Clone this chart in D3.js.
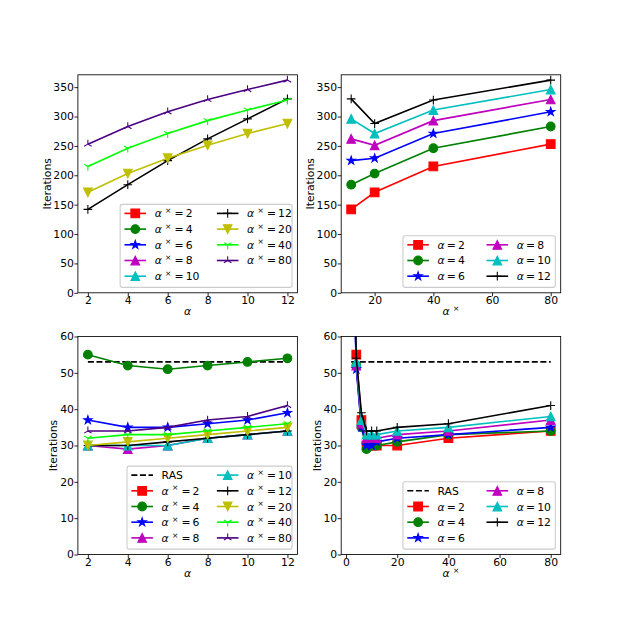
<!DOCTYPE html>
<html>
<head>
<meta charset="utf-8">
<script src="https://cdn.jsdelivr.net/npm/d3@7"></script>
<style>
  body { margin: 0; background: #fff; }
  text { font-family: "DejaVu Sans", sans-serif; }
</style>
</head>
<body>
<div id="chart"></div>
<script>
// ---- data ----
const alphaVals = [2, 4, 6, 8, 10, 12];
const crossVals = [2, 4, 6, 8, 10, 12, 20, 40, 80];

// top problem: iterations for alpha = 2..12, one array per alpha^x (null = no result)
const topIt2  = [null, null, null, null, null, null];
const topIt4  = [null, null, null, null, null, null];
const topIt6  = [null, null, null, null, null, null];
const topIt8  = [null, null, null, null, null, null];
const topIt10 = [null, null, null, null, null, null];
const topIt12 = [142, 184, 225, 262, 296, 330];
const topIt20 = [171, 203, 229, 251, 271, 288];
const topIt40 = [215, 246, 271, 293, 311, 328];
const topIt80 = [253, 283, 308, 329, 346, 362];

// bottom problem (alpha^x = 2 runs off the top of the axes)
const botIt2  = [112, 108, 106, 107, 110, 115];
const botIt4  = [55, 52, 51, 52, 53, 54];
const botIt6  = [37, 35, 35, 36, 37, 39];
const botIt8  = [30, 29, 30, 32, 33, 34];
const botIt10 = [30, 30, 30, 32, 33, 34];
const botIt12 = [30, 30, 31, 32, 33, 34];
const botIt20 = [30, 31, 32, 33, 34, 35];
const botIt40 = [32, 33, 33, 34, 35, 36];
const botIt80 = [34, 34, 35, 37, 38, 41];
const rasIt = 53;

const topYTicks = [0, 50, 100, 150, 200, 250, 300, 350];
const botYTicks = [0, 10, 20, 30, 40, 50, 60];
const alphaTicks = [2, 4, 6, 8, 10, 12];
const crossTicksTop = [20, 40, 60, 80];
const crossTicksBot = [0, 20, 40, 60, 80];

const topGrid = [topIt2, topIt4, topIt6, topIt8, topIt10, topIt12, topIt20, topIt40, topIt80];
const botGrid = [botIt2, botIt4, botIt6, botIt8, botIt10, botIt12, botIt20, botIt40, botIt80];

// ---- styles ----
const W = 623, H = 623;
const fs = 10.8;
const ms = 8.7;
const lw = 1.62;
const styles = [
  {color: "#ff0000", marker: "s"},
  {color: "#008000", marker: "o"},
  {color: "#0000ff", marker: "*"},
  {color: "#bf00bf", marker: "^"},
  {color: "#00bfbf", marker: "^"},
  {color: "#000000", marker: "+"},
  {color: "#bfbf00", marker: "v"},
  {color: "#00ff00", marker: "1"},
  {color: "#4b0082", marker: "2"}
];
const filled = ["s", "o", "^", "v", "*"];

const svg = d3.select("#chart").append("svg")
    .attr("width", W)
    .attr("height", H)
    .style("font-size", fs + "px");

function markerPath(type, size) {
  const r = size / 2;
  switch (type) {
    case "s": return `M${-r},${-r}H${r}V${r}H${-r}Z`;
    case "o": return `M${r},0A${r},${r} 0 1,1 ${-r},0A${r},${r} 0 1,1 ${r},0Z`;
    case "^": return `M0,${-r}L${r},${r}L${-r},${r}Z`;
    case "v": return `M0,${r}L${r},${-r}L${-r},${-r}Z`;
    case "+": return `M${-r},0H${r}M0,${-r}V${r}`;
    case "1": return `M0,0V${r}M0,0L${-0.866 * r},${-0.5 * r}M0,0L${0.866 * r},${-0.5 * r}`;
    case "2": return `M0,0V${-r}M0,0L${-0.866 * r},${0.5 * r}M0,0L${0.866 * r},${0.5 * r}`;
    case "*": {
      let d = "";
      for (let k = 0; k < 10; k++) {
        const a = -Math.PI / 2 + k * Math.PI / 5;
        const rr = k % 2 === 0 ? r : r * 0.381966;
        d += (k === 0 ? "M" : "L") + (rr * Math.cos(a)).toFixed(2) + "," + (rr * Math.sin(a)).toFixed(2);
      }
      return d + "Z";
    }
  }
  return "";
}

function addMarker(g, type, color, x, y) {
  g.append("path")
    .attr("d", markerPath(type, ms))
    .attr("transform", `translate(${x},${y})`)
    .attr("fill", filled.includes(type) ? color : "none")
    .attr("stroke", color)
    .attr("stroke-width", 1.08);
}

// label parts: {t, it, sup}
function addMath(textSel, parts) {
  let raised = false;
  parts.forEach(p => {
    const ts = textSel.append("tspan").text(p.t);
    if (p.it) ts.attr("font-style", "italic");
    if (p.sup) {
      ts.attr("font-size", fs * 0.7).attr("dy", -4.4).attr("dx", 3.2);
      raised = true;
    } else if (raised) {
      ts.attr("dy", 4.4).attr("dx", 1);
      raised = false;
    }
  });
}
const crossLabel = v => [{t: "α", it: true}, {t: "×", sup: true}, {t: "\u2009=\u2009" + v}];
const alphaLabel = v => [{t: "α", it: true}, {t: "\u2009=\u2009" + v}];

function panel(ox, oy, xDomain, yDomain, xTicks, yTicks, xLabel, series, legendItems) {
  const aw = 219.5, ah = 218;
  const x = d3.scaleLinear().domain(xDomain).range([0, aw]);
  const y = d3.scaleLinear().domain(yDomain).range([ah, 0]);
  const g = svg.append("g").attr("transform", `translate(${ox},${oy})`);
  const clipId = "clip" + Math.round(ox) + "_" + Math.round(oy);
  g.append("clipPath").attr("id", clipId)
    .append("rect").attr("width", aw).attr("height", ah);

  // data lines and markers
  const plot = g.append("g").attr("clip-path", `url(#${clipId})`);
  const line = d3.line().x(d => x(d[0])).y(d => y(d[1]));
  series.forEach(s => {
    plot.append("path")
      .attr("d", line(s.pts))
      .attr("fill", "none")
      .attr("stroke", s.color)
      .attr("stroke-width", lw)
      .attr("stroke-dasharray", s.dash ? "6,2.6" : null);
    if (s.marker) s.pts.forEach(d => addMarker(plot, s.marker, s.color, x(d[0]), y(d[1])));
  });

  // axes
  const xa = g.append("g").attr("transform", `translate(0,${ah})`)
    .call(d3.axisBottom(x).tickValues(xTicks).tickSize(3.5).tickPadding(0.5));
  const ya = g.append("g")
    .call(d3.axisLeft(y).tickValues(yTicks).tickSize(3.5).tickPadding(0.5));
  [xa, ya].forEach(a => {
    a.select(".domain").remove();
    a.selectAll("line").attr("stroke", "#000").attr("stroke-width", 0.85);
    a.selectAll("text").attr("fill", "#000").style("font-size", fs + "px")
      .style("font-family", "'DejaVu Sans', sans-serif");
  });
  g.append("rect").attr("width", aw).attr("height", ah)
    .attr("fill", "none").attr("stroke", "#000").attr("stroke-width", 0.85);

  // axis labels
  const xl = g.append("text").attr("x", aw / 2).attr("y", ah + 22.6)
    .attr("text-anchor", "middle");
  addMath(xl, xLabel);
  let maxW = 0;
  ya.selectAll("text").each(function() { maxW = Math.max(maxW, this.getComputedTextLength()); });
  const lx = -4 - maxW - 2.7;
  g.append("text")
    .attr("transform", `translate(${lx},${ah / 2}) rotate(-90)`)
    .attr("text-anchor", "middle")
    .text("Iterations");

  // legend, two columns filled column-first, anchored lower right
  const n = legendItems.length;
  const perCol = Math.ceil(n / 2);
  const cols = [legendItems.slice(0, perCol), legendItems.slice(perCol)];
  const pad = 0.4 * fs, hl = 2 * fs, tp = 0.8 * fs, cs = 2 * fs, pitch = 15.7;
  const lg = g.append("g");
  const box = lg.append("rect");
  const colTexts = cols.map(col => col.map(it => {
    const t = lg.append("text").attr("fill", "#000");
    addMath(t, it.label);
    return t;
  }));
  const colW = colTexts.map(texts => d3.max(texts, t => t.node().getComputedTextLength()));
  const lwid = 2 * pad + colW.reduce((a, b) => a + b + hl + tp, 0) + cs;
  const lhei = perCol * pitch + 4.5;
  const lx0 = aw - 5.4 - lwid, ly0 = ah - 5.4 - lhei;
  box.attr("x", lx0).attr("y", ly0).attr("width", lwid).attr("height", lhei)
    .attr("rx", 2.2).attr("fill", "#fff").attr("fill-opacity", 0.8)
    .attr("stroke", "#cccccc").attr("stroke-width", 1.08);
  let cx = lx0 + pad;
  cols.forEach((col, ci) => {
    col.forEach((it, ri) => {
      const cy = ly0 + 9 + ri * pitch;
      lg.append("line").attr("x1", cx).attr("x2", cx + hl).attr("y1", cy).attr("y2", cy)
        .attr("stroke", it.color).attr("stroke-width", lw)
        .attr("stroke-dasharray", it.dash ? "6,2.6" : null);
      if (it.marker) addMarker(lg, it.marker, it.color, cx + hl / 2, cy);
      colTexts[ci][ri].attr("x", cx + hl + tp).attr("y", cy + 4);
    });
    cx += hl + tp + colW[ci] + cs;
  });
}

// ---- build series ----
function crossSeries(grid) {
  return crossVals.map((c, i) => ({
    pts: alphaVals.map((a, j) => [a, grid[i][j]]).filter(d => d[1] != null),
    color: styles[i].color, marker: styles[i].marker, label: crossLabel(c)
  }));
}
function alphaSeries(grid) {
  return alphaVals.map((a, j) => ({
    pts: crossVals.map((c, i) => [c, grid[i][j]]).filter(d => d[1] != null),
    color: styles[j].color, marker: styles[j].marker, label: alphaLabel(a)
  }));
}
const ras = (x0, x1) => ({pts: [[x0, rasIt], [x1, rasIt]], color: "#000", dash: true, label: [{t: "RAS"}]});

const colX = [77.9, 341.2], rowY = [74.8, 336.5];
const xLabA = [{t: "α", it: true}];
const xLabC = [{t: "α", it: true}, {t: "×", sup: true}];

const tl = crossSeries(topGrid);
panel(colX[0], rowY[0], [1.5, 12.5], [0, 371], alphaTicks, topYTicks, xLabA, tl, tl);
const tr = alphaSeries(topGrid);
panel(colX[1], rowY[0], [8.6, 83.4], [0, 371], crossTicksTop, topYTicks, xLabC, tr, tr);
const bl = [ras(2, 12)].concat(crossSeries(botGrid));
panel(colX[0], rowY[1], [1.5, 12.5], [0, 60], alphaTicks, botYTicks, xLabA, bl, bl);
const br = [ras(2, 80)].concat(alphaSeries(botGrid));
panel(colX[1], rowY[1], [-1.9, 83.9], [0, 60], crossTicksBot, botYTicks, xLabC, br, br);
</script>
</body>
</html>
